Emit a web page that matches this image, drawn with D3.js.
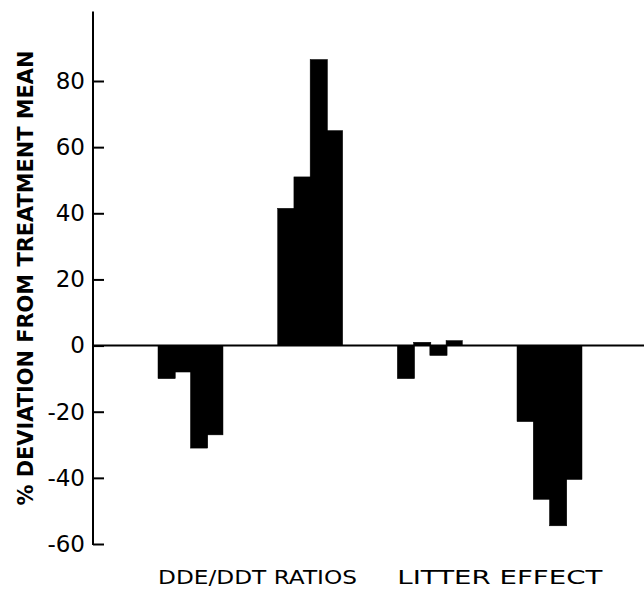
<!DOCTYPE html>
<meta charset="utf-8">
<head>
    <title>% deviation from treatment mean</title>
    <script src="https://d3js.org/d3.v7.min.js"></script>
    <style>
        body {
            margin: 0;
            background: #fff;
        }

        svg text {
            font-family: "DejaVu Sans", sans-serif;
            fill: #000;
        }
    </style>
</head>

<body>
<div id="chart"></div>

<script>
    // four groups of four bars each
    var groups = ["ratio-1", "ratio-2", "litter-1", "litter-2"];
    var barIndex = [0, 1, 2, 3];
    var deviations = [
        [-10, -8, -31, -27],
        [41.5, 51, 86.5, 65],
        [-10, 1, -3, 1.5],
        [-23, -46.5, -54.5, -40.5]
    ];
    var sectionLabels = ["DDE/DDT RATIOS", "LITTER EFFECT"];
    var sectionStart = ["ratio-1", "litter-1"];
    var yTicks = [-60, -40, -20, 0, 20, 40, 60, 80];

    var width = 644,
        height = 591;

    var svg = d3.select("#chart")
        .append("svg")
        .attr("width", width)
        .attr("height", height);

    var axisX = 93;

    var y = d3.scaleLinear()
        .domain([-60, 80])
        .range([544, 81]);

    var xGroup = d3.scaleBand()
        .domain(groups)
        .range([158, 582])
        .paddingInner(0.457)
        .paddingOuter(0);

    var xBar = d3.scaleBand()
        .domain(barIndex)
        .range([0, xGroup.bandwidth()]);

    // bars (slightly overlapped so no seams show)
    groups.forEach(function (g, gi) {
        svg.append("g")
            .attr("transform", "translate(" + xGroup(g) + ",0)")
            .selectAll("rect")
            .data(deviations[gi])
            .enter()
            .append("rect")
            .attr("x", function (d, i) { return xBar(i); })
            .attr("width", function (d, i) { return xBar.bandwidth() + (i < 3 ? 1 : 0); })
            .attr("y", function (d) { return y(Math.max(0, d)); })
            .attr("height", function (d) { return Math.abs(y(d) - y(0)); })
            .style("fill", "#000")
            .style("stroke", "#000")
            .style("stroke-width", 0.5);
    });

    // zero line
    svg.append("line")
        .attr("x1", axisX)
        .attr("x2", width)
        .attr("y1", y(0))
        .attr("y2", y(0))
        .style("stroke", "#000")
        .style("stroke-width", 2);

    // y axis, ticks point inward
    var yAxis = d3.axisLeft(y)
        .tickValues(yTicks)
        .tickSizeInner(-11)
        .tickSizeOuter(0)
        .tickPadding(8)
        .tickFormat(function (d) { return String(d); });

    var gy = svg.append("g")
        .attr("transform", "translate(" + axisX + ",0)")
        .call(yAxis);

    gy.select(".domain").remove();
    gy.selectAll(".tick line").style("stroke-width", 2);
    gy.selectAll(".tick text")
        .style("font-family", "DejaVu Sans")
        .style("font-size", "23px");

    svg.append("line")
        .attr("x1", axisX)
        .attr("x2", axisX)
        .attr("y1", y(-60) + 1)
        .attr("y2", y(101))
        .style("stroke", "#000")
        .style("stroke-width", 2);

    // y title
    svg.append("text")
        .attr("transform", "translate(33," + 278 + ") rotate(-90)")
        .attr("text-anchor", "middle")
        .attr("textLength", 455)
        .attr("lengthAdjust", "spacingAndGlyphs")
        .style("font-size", "22px")
        .style("font-weight", "bold")
        .text("% DEVIATION FROM TREATMENT MEAN");

    // section labels under the bars
    var labelWidths = [199, 205];
    sectionLabels.forEach(function (t, i) {
        svg.append("text")
            .attr("x", xGroup(sectionStart[i]))
            .attr("y", 584)
            .attr("textLength", labelWidths[i])
            .attr("lengthAdjust", "spacingAndGlyphs")
            .style("font-size", "20px")
            .text(t);
    });
</script>
</body>
